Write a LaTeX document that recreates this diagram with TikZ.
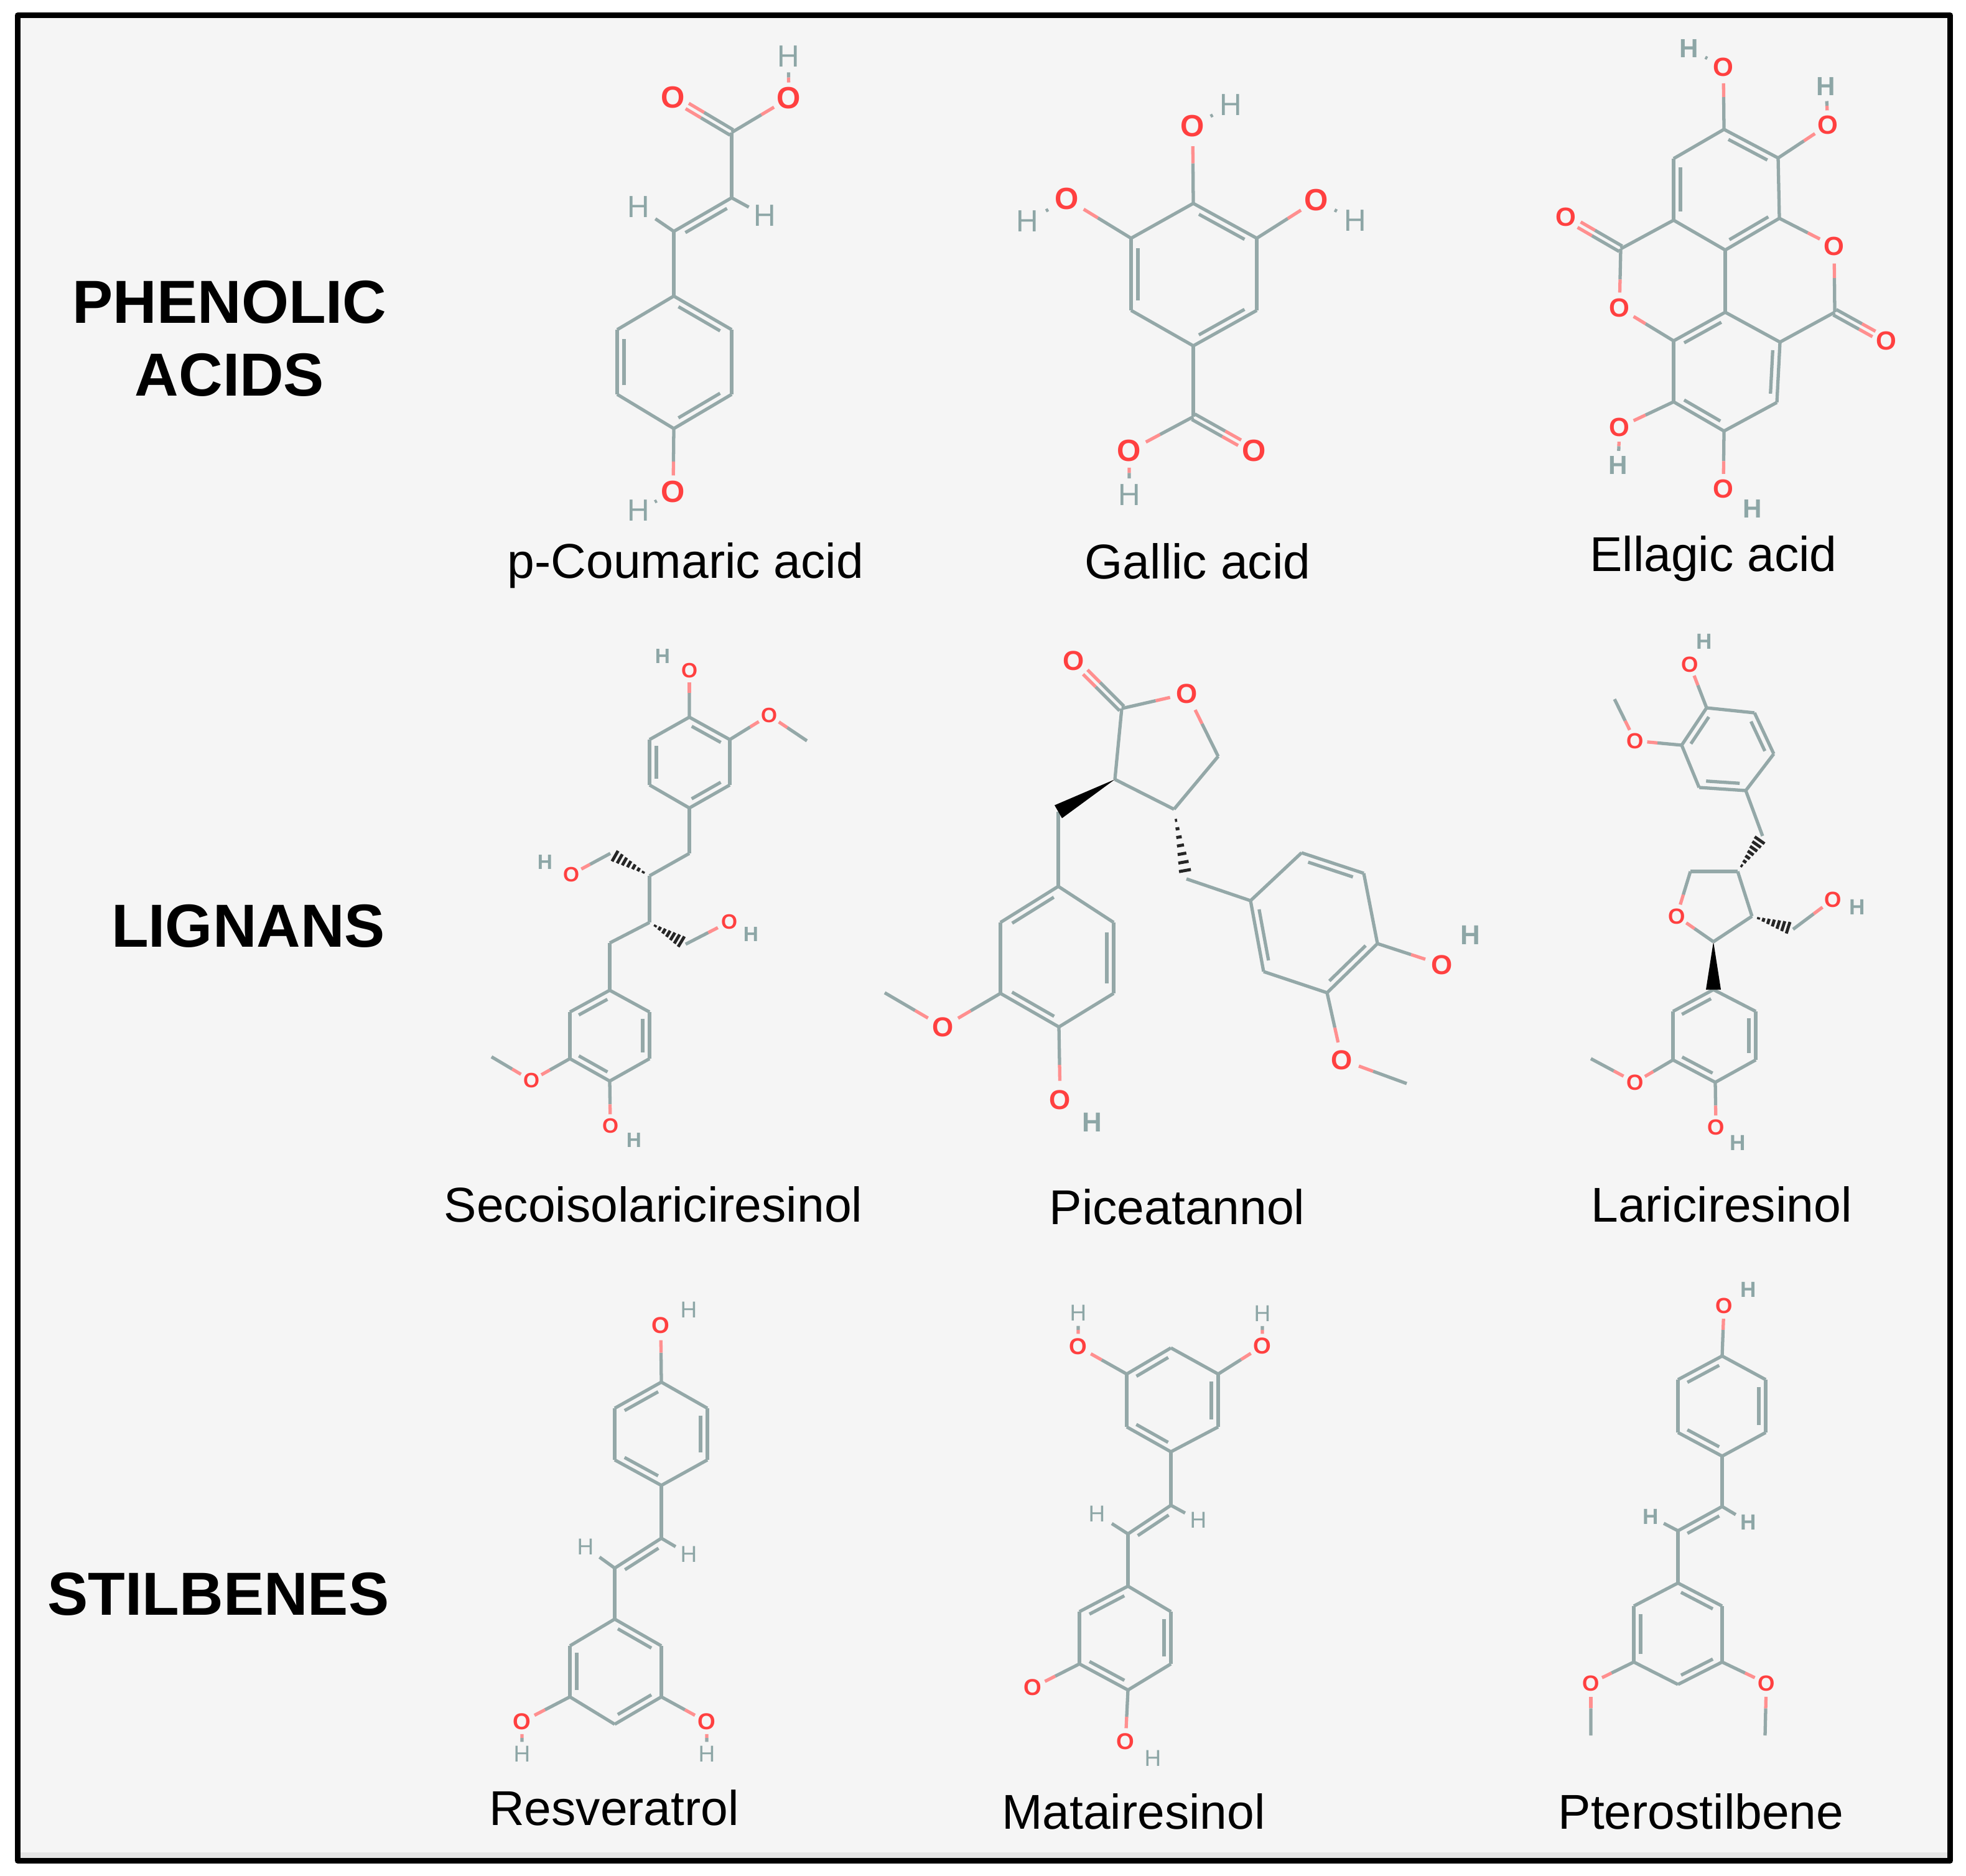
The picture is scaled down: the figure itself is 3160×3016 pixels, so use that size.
\documentclass[tikz,border=0pt]{standalone}
\usepackage{fontspec}
\setmainfont{Liberation Sans}
\usetikzlibrary{calc}
\definecolor{bondgray}{HTML}{94A8A8}
\definecolor{hydgray}{HTML}{8DA6A6}
\definecolor{oxyred}{HTML}{FF4040}
\definecolor{oxypink}{HTML}{FF8F8F}
\definecolor{panelgray}{HTML}{F5F5F5}
\tikzset{
 bond/.style={draw=bondgray,line width=1.5pt},
 obondpart/.style={draw=oxypink,line width=1.5pt},
 oxy/.style={text=oxyred,inner sep=0pt,font=\bfseries\fontsize{\sz}{\sz}\selectfont},
 hyd/.style={text=hydgray,inner sep=0pt,font=\hw\fontsize{\sz}{\sz}\selectfont},
 groupname/.style={font=\bfseries\fontsize{27.8}{33}\selectfont,inner sep=0pt},
 molname/.style={font=\fontsize{22.35}{26}\selectfont,inner sep=0pt},
}
\newcommand{\atoms}[1]{\foreach \n/\x/\y in {#1} \coordinate (\n) at (\x,\y);}
\newcommand{\oxys}[1]{\foreach \n/\x/\y in {#1} \node[oxy] (\n) at (\x,\y) {O};}
\newcommand{\hyds}[1]{\foreach \n/\x/\y in {#1} \node[hyd] (\n) at (\x,\y) {H};}
\newcommand{\bonds}[1]{\foreach \p/\q in {#1} \draw[bond] (\p) -- (\q);}
\newcommand{\dbls}[1]{\foreach \p/\q in {#1} {
 \draw[bond] (\p) -- (\q);
 \draw[bond] ($(\p)!.14!(\q)!.11cm!-90:(\q)$) -- ($(\q)!.14!(\p)!.11cm!90:(\p)$);}}
\newcommand{\ringA}[1]{\bonds{#1r2/#1r3,#1r4/#1r5,#1r6/#1r1}\dbls{#1r1/#1r2,#1r3/#1r4,#1r5/#1r6}}
\newcommand{\ringB}[1]{\bonds{#1r1/#1r2,#1r3/#1r4,#1r5/#1r6}\dbls{#1r2/#1r3,#1r4/#1r5,#1r6/#1r1}}
% carbon to oxygen, half grey half pink
\newcommand{\obonds}[1]{\foreach \p/\q in {#1} {
 \draw[bond] (\p) -- ($(\p)!.52!(\q)$);
 \draw[obondpart] ($(\p)!.52!(\q)$) -- ($(\p)!.74!(\q)$);}}
\newcommand{\codbls}[1]{\foreach \p/\q in {#1} \foreach \s in {90,-90} {
 \draw[bond] ($(\p)!.05cm!\s:(\q)$) -- ($($(\p)!.5!(\q)$)!.05cm!\s:(\q)$);
 \draw[obondpart] ($($(\p)!.5!(\q)$)!.05cm!\s:(\q)$) -- ($($(\p)!.76!(\q)$)!.05cm!\s:(\q)$);}}
\newcommand{\hbonds}[1]{\foreach \p/\q in {#1} {
 \draw[obondpart] ($(\p)!.38!(\q)$) -- ($(\p)!.5!(\q)$);
 \draw[bond] ($(\p)!.5!(\q)$) -- ($(\p)!.62!(\q)$);}}
\newcommand{\hdots}[1]{\foreach \p/\q in {#1} \draw[bond] ($(\p)!.47!(\q)$) -- ($(\p)!.53!(\q)$);}
\newcommand{\chbonds}[1]{\foreach \p/\q in {#1} \draw[bond] (\p) -- ($(\p)!.52!(\q)$);}
\newcommand{\solidw}[2]{\fill[black] (#1) -- ($(#2)!.12cm!90:(#1)$) -- ($(#2)!.12cm!-90:(#1)$) -- cycle;}
\newcommand{\hashw}[2]{\foreach \t in {.16,.28,.40,.52,.64,.76,.88,1} \draw[black!85,line width=1.4pt]
 ($(#1)!\t!(#2)!{\t*.11cm}!90:(#2)$) -- ($(#1)!\t!(#2)!{\t*.11cm}!-90:(#2)$);}
\begin{document}
\begin{tikzpicture}[x=0.01cm,y=-0.01cm]
\useasboundingbox (0,0) rectangle (3160,3016);
\fill[white] (0,0) rectangle (3160,3016);
\fill[panelgray] (28,24) rectangle (3135,2991);
\fill[black!10] (28,2978) rectangle (3135,2991);
\draw[line width=2.56pt,line join=round] (28.5,24.5) rectangle (3134.5,2991.5);
% group names
\node[groupname] (acids1) at (369,486) {PHENOLIC};
\node[groupname] (acids2) at (369,603) {ACIDS};
\node[groupname] (lignans) at (399,1489) {LIGNANS};
\node[groupname] (stilb) at (351,2563) {STILBENES};
% p-coumaric acid
\def\sz{14}\def\hw{\mdseries}
\atoms{pcr1/1083/476,pcr2/1176/530,pcr3/1176/634,pcr4/1083/689,pcr5/992/634,pcr6/992/530,pcc1/1083/372,pcc2/1176/318,pcc3/1176/213}
\oxys{pcO1/1082/157,pcO2/1268/158,pcO3/1082/791}
\hyds{pcH1/1267/91,pcH2/1026/333,pcH3/1229/347,pcH4/1026/821}
\ringA{pc}
\bonds{pcr1/pcc1,pcc2/pcc3}
\dbls{pcc1/pcc2}
\codbls{pcc3/pcO1}
\obonds{pcc3/pcO2,pcr4/pcO3}
\hbonds{pcO2/pcH1}
\hdots{pcO3/pcH4}
\chbonds{pcc1/pcH2,pcc2/pcH3}
\node[molname] (pcname) at (1102,909) {p-Coumaric acid};
% gallic acid
\atoms{gar1/1918/327,gar2/2020/383,gar3/2020/499,gar4/1918/556,gar5/1818/499,gar6/1818/383,gac1/1918/670}
\oxys{gaO1/1917/203,gaO2/1715/320,gaO3/2116/322,gaO4/1815/725,gaO5/2016/725}
\hyds{gaH1/1978/169,gaH2/1651/356,gaH3/2178/355,gaH4/1815/796}
\ringA{ga}
\bonds{gar4/gac1}
\codbls{gac1/gaO5}
\obonds{gar1/gaO1,gar6/gaO2,gar2/gaO3,gac1/gaO4}
\hdots{gaO1/gaH1,gaO2/gaH2,gaO3/gaH3}
\hbonds{gaO4/gaH4}
\node[molname] (ganame) at (1925,902) {Gallic acid};
% ellagic acid
\def\sz{12}\def\hw{\bfseries}
\atoms{eur1/2771/208,eur2/2858/254,eur3/2860/351,eur4/2773/402,eur5/2690/354,eur6/2690/255}
\atoms{elr1/2773/502,elr2/2861/550,elr3/2856/647,elr4/2771/693,elr5/2690/646,elr6/2690/548,ec1/2605/400,ec2/2949/502}
\oxys{eO1/2603/495,eO2/2517/349,eO3/2948/396,eO4/3032/548,eO5/2770/108,eO6/2938/201,eO7/2603/687,eO8/2770/786}
\hyds{eH1/2715/78,eH2/2935/139,eH3/2601/748,eH4/2817/818}
\ringA{eu}
\ringB{el}
\bonds{eur4/elr1,eur5/ec1,ec2/elr2}
\codbls{ec1/eO2,ec2/eO4}
\obonds{ec1/eO1,elr6/eO1,eur3/eO3,ec2/eO3,eur1/eO5,eur2/eO6,elr5/eO7,elr4/eO8}
\hdots{eO5/eH1}
\hbonds{eO6/eH2,eO7/eH3}
\node[molname] (elname) at (2754,898) {Ellagic acid};
% secoisolariciresinol
\def\sz{9.5}
\atoms{sur1/1108/1153,sur2/1173/1189,sur3/1173/1262,sur4/1108/1299,sur5/1044/1262,sur6/1044/1189}
\atoms{slr1/980/1592,slr2/1044/1627,slr3/1044/1702,slr4/980/1738,slr5/916/1702,slr6/916/1627}
\atoms{sc1/1108/1372,sc2/1044/1408,sc3/1044/1483,sc4/980/1516,sc5/981/1372,sc6/1102/1518,sm1/1297/1191,sm2/790/1699}
\oxys{sO1/1108/1078,sO2/1236/1150,sO3/918/1406,sO4/1172/1482,sO5/854/1737,sO6/981/1810}
\hyds{sH1/1065/1055,sH2/876/1386,sH3/1207/1502,sH4/1019/1833}
\ringA{su}
\ringB{sl}
\bonds{sur4/sc1,sc1/sc2,sc2/sc3,sc3/sc4,sc4/slr1}
\hashw{sc2}{sc5}
\hashw{sc3}{sc6}
\obonds{sur1/sO1,sur2/sO2,sm1/sO2,sc5/sO3,sc6/sO4,slr5/sO5,sm2/sO5,slr4/sO6}
\node[molname] (sname) at (1050,1936) {Secoisolariciresinol};
% piceatannol
\def\sz{12.5}
\atoms{plr1/1701/1425,plr2/1790/1483,plr3/1790/1597,plr4/1702/1651,plr5/1608/1597,plr6/1608/1483}
\atoms{prr1/2092/1371,prr2/2192/1404,prr3/2214/1517,prr4/2133/1596,prr5/2031/1562,prr6/2010/1448}
\atoms{pc1/1803/1139,pc2/1958/1216,pc3/1887/1301,pc4/1792/1253,pc5/1701/1305,pc6/1907/1413,pm1/1422/1596,pm2/2261/1742}
\oxys{pO1/1726/1062,pO2/1908/1115,pO3/1516/1651,pO4/1704/1768,pO5/2318/1551,pO6/2157/1704}
\hyds{pH1/1755/1804,pH2/2363/1503}
\ringB{pl}
\ringA{pr}
\bonds{pc1/pc4,pc4/pc3,pc3/pc2,pc5/plr1,pc6/prr6}
\solidw{pc4}{pc5}
\hashw{pc3}{pc6}
\codbls{pc1/pO1}
\obonds{pc1/pO2,pc2/pO2,plr5/pO3,pm1/pO3,plr4/pO4,prr3/pO5,prr4/pO6,pm2/pO6}
\node[molname] (pname) at (1892,1940) {Piceatannol};
% lariciresinol
\def\sz{10}
\atoms{lur1/2743/1138,lur2/2820/1146,lur3/2851/1212,lur4/2806/1271,lur5/2731/1266,lur6/2703/1198}
\atoms{llr1/2754/1591,llr2/2822/1626,llr3/2822/1704,llr4/2757/1740,llr5/2689/1704,llr6/2689/1626}
\atoms{lc1/2833/1344,lc2/2793/1401,lc3/2717/1401,lc4/2754/1514,lc5/2816/1473,lc6/2882/1494,lm1/2595/1124,lm2/2557/1702}
\oxys{lO1/2716/1068,lO2/2628/1191,lO3/2695/1473,lO4/2946/1446,lO5/2628/1740,lO6/2758/1812}
\hyds{lH1/2739/1031,lH2/2985/1458,lH3/2793/1837}
\ringB{lu}
\ringB{ll}
\bonds{lur4/lc1,lc2/lc3,lc2/lc5,lc5/lc4}
\hashw{lc2}{lc1}
\hashw{lc5}{lc6}
\solidw{lc4}{llr1}
\obonds{lur1/lO1,lur6/lO2,lm1/lO2,lc3/lO3,lc4/lO3,lc6/lO4,llr5/lO5,lm2/lO5,llr4/lO6}
\node[molname] (lname) at (2767,1936) {Lariciresinol};
% resveratrol
\def\sz{10.5}\def\hw{\mdseries}
\atoms{rur1/1063/2222,rur2/1137/2264,rur3/1137/2347,rur4/1063/2388,rur5/988/2347,rur6/988/2264}
\atoms{rlr1/988/2603,rlr2/1063/2646,rlr3/1063/2728,rlr4/988/2772,rlr5/916/2728,rlr6/916/2646,rc1/1063/2473,rc2/988/2521}
\oxys{rO1/1062/2131,rO2/839/2768,rO3/1136/2768}
\hyds{rH1/1107/2106,rH2/941/2487,rH3/1107/2499,rH4/839/2820,rH5/1136/2820}
\ringB{ru}
\ringA{rl}
\bonds{rur4/rc1,rc2/rlr1}
\dbls{rc2/rc1}
\obonds{rur1/rO1,rlr5/rO2,rlr3/rO3}
\chbonds{rc2/rH2,rc1/rH3}
\hbonds{rO2/rH4,rO3/rH5}
\node[molname] (rname) at (987,2906) {Resveratrol};
% matairesinol
\atoms{mur1/1882/2167,mur2/1958/2209,mur3/1958/2294,mur4/1882/2334,mur5/1811/2294,mur6/1811/2209}
\atoms{mlr1/1813/2550,mlr2/1882/2591,mlr3/1882/2675,mlr4/1813/2717,mlr5/1735/2675,mlr6/1735/2591,mc1/1882/2420,mc2/1813/2466}
\oxys{mO1/1733/2165,mO2/2029/2164,mO3/1660/2713,mO4/1809/2800}
\hyds{mH1/1733/2111,mH2/2029/2112,mH3/1763/2434,mH4/1926/2444,mH5/1853/2827}
\ringB{mu}
\ringB{ml}
\bonds{mur4/mc1,mc2/mlr1}
\dbls{mc2/mc1}
\obonds{mur6/mO1,mur2/mO2,mlr5/mO3,mlr4/mO4}
\hbonds{mO1/mH1,mO2/mH2}
\chbonds{mc2/mH3,mc1/mH4}
\node[molname] (mname) at (1822,2912) {Matairesinol};
% pterostilbene
\def\sz{10}\def\hw{\bfseries}
\atoms{tur1/2768/2180,tur2/2838/2218,tur3/2838/2303,tur4/2768/2341,tur5/2697/2303,tur6/2697/2218}
\atoms{tlr1/2697/2545,tlr2/2768/2582,tlr3/2768/2672,tlr4/2697/2708,tlr5/2626/2672,tlr6/2626/2582,tc1/2768/2422,tc2/2697/2461,tm1/2837/2790,tm2/2557/2790}
\oxys{tO1/2771/2099,tO2/2839/2706,tO3/2557/2706}
\hyds{tH1/2810/2073,tH2/2653/2438,tH3/2810/2447}
\ringB{tu}
\ringA{tl}
\bonds{tur4/tc1,tc2/tlr1}
\dbls{tc2/tc1}
\obonds{tur1/tO1,tlr3/tO2,tm1/tO2,tlr5/tO3,tm2/tO3}
\chbonds{tc2/tH2,tc1/tH3}
\node[molname] (tname) at (2734,2912) {Pterostilbene};
\end{tikzpicture}
\end{document}
